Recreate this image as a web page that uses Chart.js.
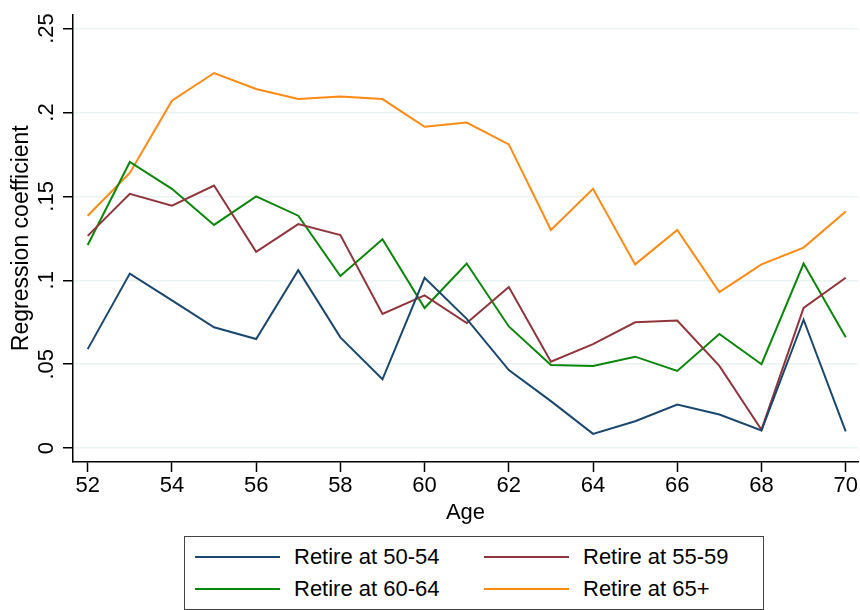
<!DOCTYPE html>
<html>
<head>
<meta charset="utf-8">
<script src="https://cdn.jsdelivr.net/npm/chart.js@4/dist/chart.umd.min.js"></script>
<style>
  html, body { margin: 0; padding: 0; background: #fff; }
  #wrap { position: relative; width: 860px; height: 610px; }
  #chart { position: absolute; left: 0; top: 0; }
  #legend {
    position: absolute; left: 184px; top: 536px; width: 580px; height: 74px;
    box-sizing: border-box; border: 1px solid #444; background: #fff;
    padding: 4px 0 0 10px;
    display: grid; grid-template-columns: 289px 289px; grid-auto-rows: 32px;
    font-family: "Liberation Sans", Arial, sans-serif; font-size: 22px; color: #000;
  }
  .item { display: flex; align-items: center; white-space: nowrap; }
  .swatch { display: inline-block; width: 85px; height: 2px; margin-right: 14px; }
</style>
</head>
<body>
<div id="wrap">
  <canvas id="chart" width="860" height="610"></canvas>
  <div id="legend"></div>
</div>
<script>
// Age at observation
const ages = [52, 53, 54, 55, 56, 57, 58, 59, 60, 61, 62, 63, 64, 65, 66, 67, 68, 69, 70];

// Regression coefficients by retirement-age group
const retire5054 = [0.059, 0.104, 0.088, 0.072, 0.065, 0.106, 0.066, 0.041, 0.1015, 0.077, 0.0465, 0.028, 0.0085, 0.016, 0.026, 0.020, 0.0105, 0.0765, 0.010];
const retire5559 = [0.1265, 0.1515, 0.1445, 0.1565, 0.117, 0.1335, 0.127, 0.080, 0.091, 0.0745, 0.096, 0.0515, 0.062, 0.075, 0.076, 0.049, 0.011, 0.0835, 0.1015];
const retire6064 = [0.121, 0.1705, 0.1545, 0.133, 0.150, 0.1385, 0.1025, 0.1245, 0.0835, 0.110, 0.0725, 0.0495, 0.049, 0.0545, 0.046, 0.068, 0.050, 0.110, 0.066];
const retire65 = [0.1385, 0.164, 0.207, 0.2235, 0.214, 0.208, 0.2095, 0.208, 0.1915, 0.194, 0.181, 0.130, 0.1545, 0.1095, 0.130, 0.093, 0.1095, 0.1195, 0.141];

const seriesLabels = ['Retire at 50-54', 'Retire at 55-59', 'Retire at 60-64', 'Retire at 65+'];

// Axis tick values
const xTicks = [52, 54, 56, 58, 60, 62, 64, 66, 68, 70];
const yTicks = [0, 0.05, 0.1, 0.15, 0.2, 0.25];

const FONT = '"Liberation Sans", Arial, sans-serif';
const colors = ['#1a476f', '#90353b', '#0a860a', '#ff8a12'];
const values = [retire5054, retire5559, retire6064, retire65];

const toPoints = (vals) => ages.map((a, i) => ({ x: a, y: vals[i] }));

// Builds the boxed two-column legend below the plot
const htmlLegend = {
  id: 'htmlLegend',
  afterUpdate(chart) {
    const box = document.getElementById('legend');
    box.innerHTML = '';
    const items = Chart.defaults.plugins.legend.labels.generateLabels(chart);
    items.forEach((it) => {
      const row = document.createElement('div');
      row.className = 'item';
      const sw = document.createElement('span');
      sw.className = 'swatch';
      sw.style.background = it.strokeStyle;
      const tx = document.createElement('span');
      tx.textContent = it.text;
      row.appendChild(sw);
      row.appendChild(tx);
      box.appendChild(row);
    });
  }
};

new Chart(document.getElementById('chart'), {
  type: 'line',
  data: {
    datasets: values.map((v, i) => ({
      label: seriesLabels[i],
      data: toPoints(v),
      borderColor: colors[i],
      backgroundColor: colors[i],
      borderWidth: 2,
      pointRadius: 0,
      tension: 0,
      fill: false
    }))
  },
  options: {
    responsive: false,
    animation: false,
    devicePixelRatio: 1,
    layout: { padding: { left: 0, top: 10, right: 2, bottom: 0 } },
    plugins: {
      legend: { display: false },
      tooltip: { enabled: false }
    },
    scales: {
      x: {
        type: 'linear',
        min: 51.651,
        max: 70.292,
        afterBuildTicks: (s) => { s.ticks = xTicks.map((v) => ({ value: v })); },
        afterFit: (s) => { s.height = 148; },
        border: { display: true, color: '#000', width: 1.5 },
        grid: { drawOnChartArea: false, drawTicks: true, tickLength: 10, tickColor: '#000', tickWidth: 1.5 },
        ticks: {
          color: '#000', padding: 1, maxRotation: 0, minRotation: 0, autoSkip: false,
          font: { family: FONT, size: 22 },
          callback: (v) => String(v)
        },
        title: {
          display: true, text: 'Age', color: '#000',
          font: { family: FONT, size: 22 },
          padding: { top: 0, bottom: 84 }
        }
      },
      y: {
        type: 'linear',
        min: -0.00826,
        max: 0.25844,
        afterBuildTicks: (s) => { s.ticks = yTicks.map((v) => ({ value: v })); },
        afterFit: (s) => { s.width = 73; },
        border: { display: true, color: '#000', width: 1.5 },
        grid: { color: '#eaf2f3', lineWidth: 1.5, drawTicks: true, tickLength: 10, tickColor: '#000', tickWidth: 1.5 },
        ticks: {
          color: '#000', padding: 1.2, minRotation: 90, maxRotation: 90, crossAlign: 'center', autoSkip: false,
          font: { family: FONT, size: 22 },
          callback: (v) => (v === 0 ? '0' : String(v).replace(/^0/, ''))
        },
        title: {
          display: true, text: 'Regression coefficient', color: '#000',
          font: { family: FONT, size: 23 },
          padding: { top: 8, bottom: 0 }
        }
      }
    }
  },
  plugins: [htmlLegend]
});
</script>
</body>
</html>
